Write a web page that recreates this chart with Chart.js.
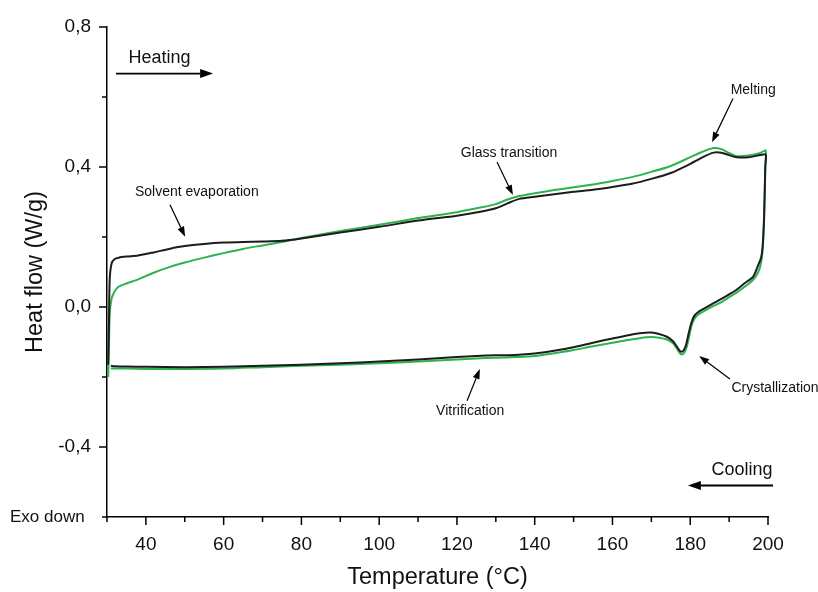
<!DOCTYPE html>
<html>
<head>
<meta charset="utf-8">
<script src="https://cdn.jsdelivr.net/npm/chart.js@4.4.1/dist/chart.umd.min.js"></script>
<style>
  html, body { margin: 0; padding: 0; background: #ffffff; }
  canvas { display: block; }
</style>
</head>
<body>
<canvas id="dsc" width="818" height="592"></canvas>
<script>
// DSC heating scan (°C) and heat flow (W/g) for the two samples
const heatingTemp = [30.3, 30.5, 30.7, 31.2, 32, 33, 35, 38,
  42, 46, 50, 55, 60, 65, 70, 75,
  80, 90, 100, 110, 120, 126, 130, 133,
  136, 140, 145, 150, 155, 160, 165, 170,
  175, 180, 183, 186, 188, 190, 192, 195,
  198, 199.4];
const heatingBlack = [-0.165, -0.05, 0.08, 0.125, 0.137, 0.141, 0.144, 0.147,
  0.156, 0.166, 0.174, 0.180, 0.184, 0.186, 0.187, 0.189,
  0.196, 0.213, 0.229, 0.247, 0.261, 0.272, 0.282, 0.296,
  0.309, 0.315, 0.322, 0.329, 0.335, 0.343, 0.352, 0.366,
  0.383, 0.409, 0.427, 0.441, 0.441, 0.434, 0.428, 0.428,
  0.434, 0.436];
const heatingGreen = [-0.20, -0.12, -0.02, 0.025, 0.045, 0.058, 0.067, 0.079,
  0.098, 0.114, 0.127, 0.141, 0.154, 0.166, 0.176, 0.186,
  0.197, 0.217, 0.235, 0.254, 0.271, 0.284, 0.294, 0.307,
  0.317, 0.325, 0.334, 0.342, 0.350, 0.360, 0.371, 0.386,
  0.403, 0.428, 0.443, 0.454, 0.451, 0.440, 0.431, 0.433,
  0.440, 0.447];

// Cooling scan, from 200 °C back down
const coolingTemp = [199.3, 199.0, 198.6, 198.2, 197.5, 196.2,
  194, 192, 190, 188, 186, 184, 182, 181,
  180.3, 179.6, 179, 178.4, 177.8, 177.2, 176.5, 175.5,
  174, 172, 170, 167, 164, 160,
  155, 150, 145, 140, 135, 130, 125, 120,
  110, 100, 90, 80, 70, 60, 50, 40,
  35, 32, 31];
const coolingBlack = [0.40, 0.26, 0.17, 0.14, 0.12, 0.087,
  0.068, 0.050, 0.036, 0.023, 0.011, -0.002, -0.015, -0.026,
  -0.045, -0.075, -0.105, -0.122, -0.128, -0.124, -0.112, -0.097,
  -0.085, -0.077, -0.073, -0.075, -0.081, -0.090,
  -0.102, -0.115, -0.125, -0.133, -0.137, -0.138, -0.140, -0.143,
  -0.150, -0.156, -0.161, -0.165, -0.168, -0.171, -0.172, -0.171,
  -0.170, -0.169, -0.168];
const coolingGreen = [0.40, 0.25, 0.16, 0.125, 0.10, 0.078,
  0.058, 0.042, 0.028, 0.014, 0.003, -0.009, -0.022, -0.035,
  -0.055, -0.09, -0.118, -0.132, -0.136, -0.130, -0.118, -0.103,
  -0.093, -0.088, -0.086, -0.089, -0.094, -0.102,
  -0.112, -0.123, -0.132, -0.140, -0.143, -0.145, -0.147, -0.150,
  -0.156, -0.161, -0.165, -0.168, -0.172, -0.176, -0.177, -0.177,
  -0.176, -0.176, -0.176];

// Axis ranges and tick steps
const tempRange = [30, 200];
const flowRange = [-0.6, 0.8];
const tempMajorStep = 20;
const tempMinorStep = 10;
const flowMinorStep = 0.2;

// Labelled arrows: text anchor and arrow from -> to, in data units
const notes = [
  { text: 'Solvent evaporation', at: [53.1, 0.329], from: [46.2, 0.292], to: [50.1, 0.201] },
  { text: 'Glass transition',    at: [133.4, 0.440], from: [130.3, 0.414], to: [134.4, 0.320] },
  { text: 'Melting',             at: [196.2, 0.619], from: [191.0, 0.596], to: [185.6, 0.471] },
  { text: 'Crystallization',     at: [201.8, -0.231], from: [190.2, -0.206], to: [182.3, -0.140] },
  { text: 'Vitrification',       at: [123.4, -0.297], from: [122.6, -0.268], to: [125.9, -0.177] }
];
const scanArrows = [
  { text: 'Heating', at: [43.5, 0.712], from: [32.3, 0.667], to: [57.3, 0.667] },
  { text: 'Cooling', at: [193.3, -0.467], from: [201.3, -0.510], to: [179.4, -0.510] }
];

const FONT = '"Liberation Sans", Arial, Helvetica, sans-serif';

function toLoop(tH, qH, tC, qC) {
  return tH.map((t, i) => ({ x: t, y: qH[i] }))
    .concat(tC.map((t, i) => ({ x: t, y: qC[i] })));
}

function drawArrow(ctx, x1, y1, x2, y2, headLen, headHalf, width) {
  const ang = Math.atan2(y2 - y1, x2 - x1);
  const bx = x2 - headLen * Math.cos(ang);
  const by = y2 - headLen * Math.sin(ang);
  ctx.lineWidth = width;
  ctx.beginPath();
  ctx.moveTo(x1, y1);
  ctx.lineTo(bx, by);
  ctx.stroke();
  ctx.beginPath();
  ctx.moveTo(x2, y2);
  ctx.lineTo(bx + headHalf * Math.sin(ang), by - headHalf * Math.cos(ang));
  ctx.lineTo(bx - headHalf * Math.sin(ang), by + headHalf * Math.cos(ang));
  ctx.closePath();
  ctx.fill();
}

const decorations = {
  id: 'decorations',
  afterDraw(chart) {
    const { ctx, scales: { x, y } } = chart;
    ctx.save();
    ctx.strokeStyle = '#000';
    ctx.fillStyle = '#000';
    ctx.lineWidth = 1.5;

    // outward tick marks, major longer than minor
    const axisY = x.top;
    for (let v = tempRange[0]; v <= tempRange[1]; v += tempMinorStep) {
      const px = x.getPixelForValue(v);
      const len = v % tempMajorStep === 0 ? 8 : 5;
      ctx.beginPath();
      ctx.moveTo(px, axisY);
      ctx.lineTo(px, axisY + len);
      ctx.stroke();
    }
    const axisX = y.right;
    const nSteps = Math.round((flowRange[1] - flowRange[0]) / flowMinorStep);
    for (let k = 0; k <= nSteps; k++) {
      const v = flowRange[0] + k * flowMinorStep;
      const py = y.getPixelForValue(v);
      const len = k % 2 === 1 ? 8 : 5;
      ctx.beginPath();
      ctx.moveTo(axisX, py);
      ctx.lineTo(axisX - len, py);
      ctx.stroke();
    }

    // "Exo down" sits at the foot of the heat-flow axis
    ctx.font = '17px ' + FONT;
    ctx.textAlign = 'left';
    ctx.textBaseline = 'middle';
    ctx.fillStyle = '#111';
    ctx.fillText('Exo down', 10, y.getPixelForValue(flowRange[0]));

    // heating / cooling direction arrows
    ctx.font = '18px ' + FONT;
    ctx.textAlign = 'center';
    ctx.textBaseline = 'middle';
    scanArrows.forEach(a => {
      ctx.fillStyle = '#111';
      ctx.fillText(a.text, x.getPixelForValue(a.at[0]), y.getPixelForValue(a.at[1]));
      ctx.fillStyle = '#000';
      drawArrow(ctx,
        x.getPixelForValue(a.from[0]), y.getPixelForValue(a.from[1]),
        x.getPixelForValue(a.to[0]), y.getPixelForValue(a.to[1]),
        13, 4.5, 1.8);
    });

    // thermal event labels
    ctx.font = '14px ' + FONT;
    notes.forEach(n => {
      ctx.fillStyle = '#111';
      ctx.fillText(n.text, x.getPixelForValue(n.at[0]), y.getPixelForValue(n.at[1]));
      ctx.fillStyle = '#000';
      ctx.strokeStyle = '#000';
      drawArrow(ctx,
        x.getPixelForValue(n.from[0]), y.getPixelForValue(n.from[1]),
        x.getPixelForValue(n.to[0]), y.getPixelForValue(n.to[1]),
        10, 3.5, 1.2);
    });
    ctx.restore();
  }
};

new Chart(document.getElementById('dsc'), {
  type: 'scatter',
  data: {
    datasets: [
      {
        label: 'Sample 1',
        data: toLoop(heatingTemp, heatingBlack, coolingTemp, coolingBlack),
        showLine: true,
        borderColor: '#1c1c1c',
        borderWidth: 2,
        pointRadius: 0,
        tension: 0.25,
        fill: false
      },
      {
        label: 'Sample 2',
        data: toLoop(heatingTemp, heatingGreen, coolingTemp, coolingGreen),
        showLine: true,
        borderColor: '#2db24e',
        borderWidth: 2,
        pointRadius: 0,
        tension: 0.25,
        fill: false
      }
    ]
  },
  options: {
    responsive: false,
    animation: false,
    layout: { padding: { left: 0, right: 50, top: 27, bottom: 0 } },
    plugins: { legend: { display: false }, tooltip: { enabled: false } },
    scales: {
      x: {
        type: 'linear',
        min: tempRange[0],
        max: tempRange[1],
        afterBuildTicks: s => {
          const t = [];
          for (let v = 40; v <= tempRange[1]; v += tempMajorStep) t.push({ value: v });
          s.ticks = t;
        },
        afterFit: s => { s.height = 75; },
        grid: { display: false },
        border: { display: true, color: '#000', width: 1.5 },
        ticks: {
          color: '#111',
          padding: 8,
          maxRotation: 0,
          font: { family: FONT, size: 19 },
          callback: v => String(v)
        },
        title: {
          display: true,
          text: 'Temperature (°C)',
          color: '#111',
          font: { family: FONT, size: 23.5 },
          padding: { top: 0, bottom: 0 }
        }
      },
      y: {
        type: 'linear',
        min: flowRange[0],
        max: flowRange[1],
        afterBuildTicks: s => {
          const t = [];
          for (let k = -1; k <= 2; k++) t.push({ value: k * 0.4 });
          s.ticks = t;
        },
        afterFit: s => { s.width = 107; },
        grid: { display: false },
        border: { display: true, color: '#000', width: 1.5 },
        ticks: {
          color: '#111',
          padding: 8,
          font: { family: FONT, size: 19 },
          callback: v => (Math.abs(v) < 1e-9 ? 0 : v).toFixed(1).replace('.', ',')
        },
        title: {
          display: true,
          text: 'Heat flow (W/g)',
          color: '#111',
          font: { family: FONT, size: 23.5 },
          padding: { top: 21, bottom: 0 }
        }
      }
    }
  },
  plugins: [decorations]
});
</script>
</body>
</html>
